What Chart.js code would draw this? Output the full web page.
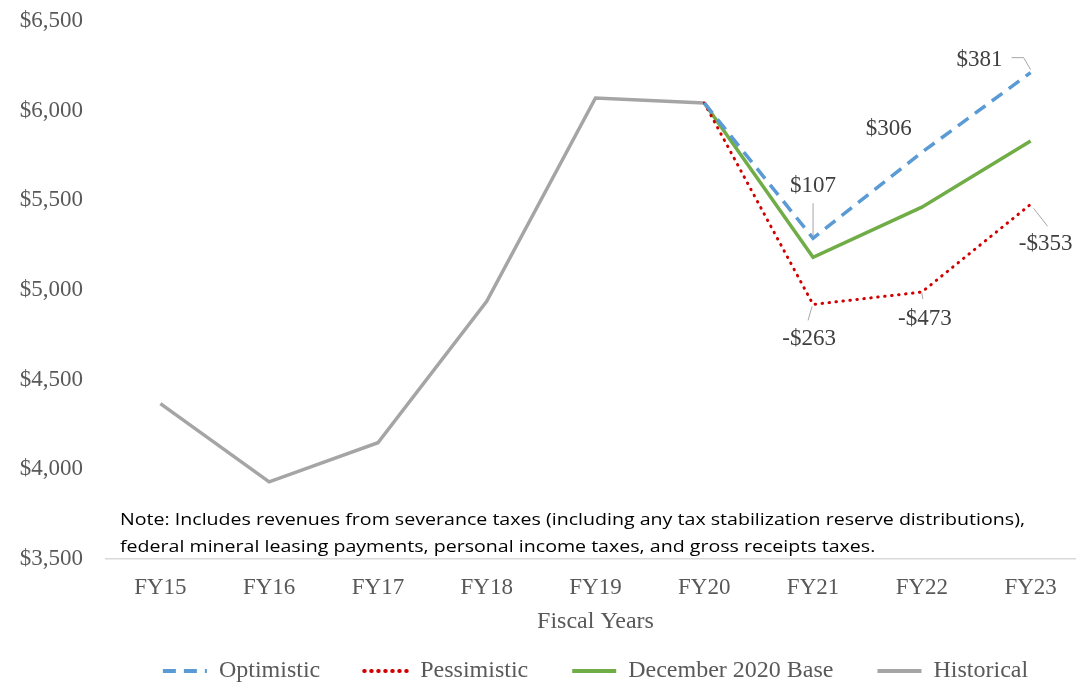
<!DOCTYPE html>
<html>
<head>
<meta charset="utf-8">
<script src="https://cdn.jsdelivr.net/npm/chart.js@4"></script>
<style>
  html, body { margin: 0; padding: 0; background: #fff; overflow: hidden; }
  #wrap { width: 1085px; height: 693px; position: relative; }
</style>
</head>
<body>
<div id="wrap"><canvas id="chart"></canvas></div>
<script>
const years = ['FY15', 'FY16', 'FY17', 'FY18', 'FY19', 'FY20', 'FY21', 'FY22', 'FY23'];

const historical  = [4366, 3930, 4148, 4936, 6070, 6042, null, null, null];
const baseCase    = [null, null, null, null, null, 6042, 5182, 5461, 5830];
const optimistic  = [null, null, null, null, null, 6042, 5288, 5767, 6211];
const pessimistic = [null, null, null, null, null, 6042, 4919, 4988, 5477];

// difference from the December 2020 base, shown as labels
const optimisticDiff  = [null, null, null, null, null, null, 107, 306, 381];
const pessimisticDiff = [null, null, null, null, null, null, -263, -473, -353];

const noteLines = [
  'Note: Includes revenues from severance taxes (including any tax stabilization reserve distributions),',
  'federal mineral leasing payments, personal income taxes, and gross receipts taxes.'
];

const serif = "'Liberation Serif', 'Times New Roman', serif";

function money(v) {
  return (v < 0 ? '-$' : '$') + Math.abs(v).toLocaleString('en-US');
}

// label placement for each point: text offset and leader line
const labelSpots = {
  0: { 6: { dx: 0, dy: -52, lead: [[0, -2], [0, -35]] },
       7: { dx: -33, dy: -23 },
       8: { dx: -51, dy: -13, lead: [[0, -3], [-7, -15], [-19, -15]] } },
  1: { 6: { dx: -4, dy: 35, lead: [[-1, 2], [-5, 16]] },
       7: { dx: 3, dy: 27, lead: [[0, 1], [1, 7]] },
       8: { dx: 15, dy: 40, lead: [[3, 4], [17, 22]] } }
};

const diffLabels = {
  id: 'diffLabels',
  afterDatasetsDraw(chart) {
    const ctx = chart.ctx;
    const diffs = [optimisticDiff, pessimisticDiff];
    ctx.save();
    ctx.font = '23px ' + serif;
    ctx.fillStyle = '#404040';
    ctx.textAlign = 'center';
    ctx.textBaseline = 'middle';
    diffs.forEach((arr, di) => {
      const meta = chart.getDatasetMeta(di);
      arr.forEach((v, i) => {
        if (v === null) return;
        const pt = meta.data[i];
        const spot = labelSpots[di][i];
        if (spot.lead) {
          ctx.strokeStyle = '#a6a6a6';
          ctx.lineWidth = 1;
          ctx.setLineDash([]);
          ctx.beginPath();
          spot.lead.forEach((p, k) => {
            const x = pt.x + p[0], y = pt.y + p[1];
            if (k === 0) ctx.moveTo(x, y); else ctx.lineTo(x, y);
          });
          ctx.stroke();
        }
        ctx.fillText(money(v), pt.x + spot.dx, pt.y + spot.dy);
      });
    });
    ctx.restore();
  }
};

const notePlugin = {
  id: 'notePlugin',
  afterDraw(chart) {
    const ctx = chart.ctx;
    const area = chart.chartArea;
    const x0 = area.left + 14;
    ctx.save();
    ctx.font = "17px 'Open Sans', 'Liberation Sans', sans-serif";
    const sx = 905 / ctx.measureText(noteLines[0]).width;
    ctx.fillStyle = '#000';
    ctx.textAlign = 'left';
    ctx.textBaseline = 'middle';
    ctx.translate(x0, 0);
    ctx.scale(sx, 1);
    ctx.fillText(noteLines[0], 0, area.bottom - 39);
    ctx.fillText(noteLines[1], 0, area.bottom - 12);
    ctx.restore();
  }
};

new Chart(document.getElementById('chart'), {
  type: 'line',
  data: {
    labels: years,
    datasets: [
      { label: 'Optimistic', data: optimistic, borderColor: '#5b9bd5', borderWidth: 3.5,
        borderDash: [13, 8], pointRadius: 0, tension: 0 },
      { label: 'Pessimistic', data: pessimistic, borderColor: '#d00000', borderWidth: 3,
        borderDash: [0.5, 6.5], borderCapStyle: 'round', pointRadius: 0, tension: 0 },
      { label: 'December 2020 Base', data: baseCase, borderColor: '#70ad47', borderWidth: 3.5,
        pointRadius: 0, tension: 0 },
      { label: 'Historical', data: historical, borderColor: '#a5a5a5', borderWidth: 3.5,
        pointRadius: 0, tension: 0 }
    ]
  },
  options: {
    responsive: true,
    maintainAspectRatio: false,
    animation: false,
    layout: { padding: 0 },
    scales: {
      x: {
        offset: true,
        grid: { display: false, drawTicks: false },
        border: { display: true, color: '#d9d9d9', width: 1.5 },
        ticks: { color: '#595959', font: { family: serif, size: 23 }, padding: 15, maxRotation: 0 },
        title: { display: true, text: 'Fiscal Years', color: '#595959',
                 font: { family: serif, size: 24 }, padding: { top: 4, bottom: 21 } },
        afterFit(scale) { scale.height = 98; }
      },
      y: {
        min: 3500, max: 6500,
        grid: { display: false, drawTicks: true, tickLength: 16 },
        border: { display: false },
        ticks: { stepSize: 500, color: '#595959', font: { family: serif, size: 23 }, padding: 7,
                 callback: v => money(v) },
        afterFit(scale) { scale.width = 106; }
      }
    },
    plugins: {
      legend: {
        position: 'bottom',
        fullSize: false,
        labels: {
          color: '#595959',
          font: { family: serif, size: 24 },
          usePointStyle: true,
          pointStyleWidth: 44,
          padding: 2,
          generateLabels: chart => chart.data.datasets.map((ds, i, all) => ({
            text: i < all.length - 1 ? ds.label + '       ' : ds.label,
            datasetIndex: i,
            hidden: false,
            pointStyle: 'line',
            strokeStyle: ds.borderColor,
            fillStyle: ds.borderColor,
            lineWidth: 4,
            lineDash: ds.borderDash || [],
            lineCap: ds.borderCapStyle || 'butt',
            fontColor: '#595959'
          }))
        }
      },
      tooltip: { enabled: false }
    }
  },
  plugins: [diffLabels, notePlugin]
});
</script>
</body>
</html>
